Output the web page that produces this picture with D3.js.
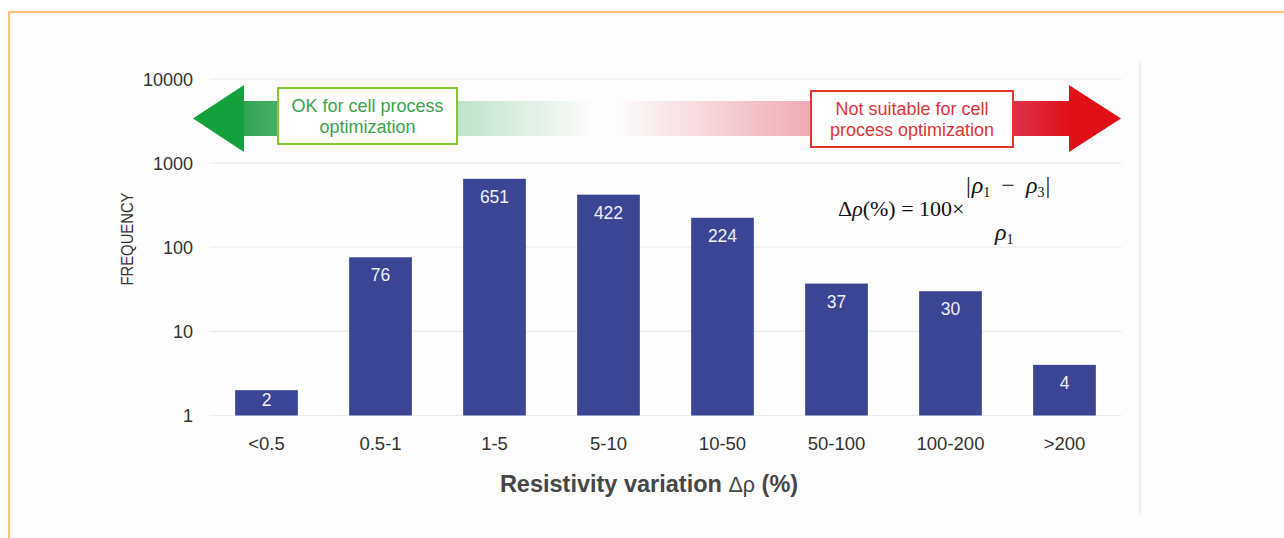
<!DOCTYPE html>
<html>
<head>
<meta charset="utf-8">
<script src="https://cdn.jsdelivr.net/npm/d3@7"></script>
<style>
  html, body { margin: 0; padding: 0; background: #ffffff; }
  svg { display: block; }
</style>
</head>
<body>
<svg id="chart" width="1284" height="538"></svg>
<script>
// Resistivity variation bins and how many samples fall in each
const categories = ["<0.5", "0.5-1", "1-5", "5-10", "10-50", "50-100", "100-200", ">200"];
const frequency = [2, 76, 651, 422, 224, 37, 30, 4];
const yTicks = [1, 10, 100, 1000, 10000];

const okText = ["OK for cell process", "optimization"];
const badText = ["Not suitable for cell", "process optimization"];

const svg = d3.select("#chart");
const W = 1284, H = 538;
const sans = "Liberation Sans, Arial, sans-serif";

// page frame
svg.append("rect").attr("x", 9).attr("y", 12).attr("width", W - 9).attr("height", H - 12)
  .attr("fill", "#fdfdfd");
svg.append("path").attr("d", `M9,${H} V12 H${W}`)
  .attr("fill", "none").attr("stroke", "#f6c27c").attr("stroke-width", 2);
svg.append("line").attr("x1", 1140).attr("x2", 1140).attr("y1", 63).attr("y2", 513)
  .attr("stroke", "#e6e6e6").attr("stroke-width", 1.5);

const plot = { left: 209.5, right: 1121.5, top: 79, bottom: 415.5 };

const x = d3.scaleBand().domain(categories)
  .range([plot.left, plot.right])
  .paddingInner(0.45).paddingOuter(0.225);
const y = d3.scaleLog().domain([1, 10000]).range([plot.bottom, plot.top]);

// horizontal grid
svg.append("g").selectAll("line").data(yTicks).join("line")
  .attr("x1", plot.left).attr("x2", plot.right)
  .attr("y1", d => y(d)).attr("y2", d => y(d))
  .attr("stroke", "#ececec").attr("stroke-width", 1.2);

// y axis labels
const yAxis = d3.axisLeft(y).tickValues(yTicks).tickFormat(d3.format("d")).tickSize(0).tickPadding(0);
const gy = svg.append("g").attr("transform", `translate(193,0)`).call(yAxis);
gy.select(".domain").remove();
gy.selectAll("text").attr("font-family", sans)
  .attr("font-size", 18).attr("fill", "#333").attr("dy", "0.36em");

// x axis labels
const xAxis = d3.axisBottom(x).tickSize(0).tickPadding(0);
const gx = svg.append("g").attr("transform", `translate(0,437)`).call(xAxis);
gx.select(".domain").remove();
gx.selectAll("text").attr("font-family", sans)
  .attr("font-size", 18.5).attr("fill", "#333").attr("dy", "0.71em");

// bars
svg.append("g").selectAll("rect").data(frequency).join("rect")
  .attr("x", (d, i) => x(categories[i]))
  .attr("width", x.bandwidth())
  .attr("y", d => y(d))
  .attr("height", d => plot.bottom - y(d))
  .attr("fill", "#3c4594");

// value labels inside bars
svg.append("g").selectAll("text").data(frequency).join("text")
  .attr("x", (d, i) => x(categories[i]) + x.bandwidth() / 2)
  .attr("y", d => Math.min(y(d) + 24, plot.bottom - 10))
  .attr("text-anchor", "middle")
  .attr("font-family", sans)
  .attr("font-size", 17.5).attr("fill", "#eef0f8")
  .text(d => d);

// axis titles
svg.append("text")
  .attr("transform", `translate(133,239) rotate(-90)`)
  .attr("text-anchor", "middle")
  .attr("font-family", sans)
  .attr("font-size", 17).attr("fill", "#333")
  .attr("textLength", 93).attr("lengthAdjust", "spacingAndGlyphs")
  .text("FREQUENCY");

const xt = svg.append("text")
  .attr("x", 649).attr("y", 492)
  .attr("text-anchor", "middle")
  .attr("font-family", sans)
  .attr("font-size", 23.5).attr("font-weight", "bold").attr("fill", "#474747");
xt.append("tspan").text("Resistivity variation ");
xt.append("tspan").attr("font-weight", "normal").attr("font-size", 21.5).text("Δρ");
xt.append("tspan").text(" (%)");

// direction arrows
const defs = svg.append("defs");
const gGreen = defs.append("linearGradient").attr("id", "fadeGreen")
  .attr("gradientUnits", "userSpaceOnUse").attr("x1", 243).attr("x2", 595).attr("y1", 0).attr("y2", 0);
gGreen.append("stop").attr("offset", 0).attr("stop-color", "#1f9c44").attr("stop-opacity", 0.92);
gGreen.append("stop").attr("offset", 0.6).attr("stop-color", "#2a9f50").attr("stop-opacity", 0.3);
gGreen.append("stop").attr("offset", 1).attr("stop-color", "#2a9f50").attr("stop-opacity", 0);

const gRed = defs.append("linearGradient").attr("id", "fadeRed")
  .attr("gradientUnits", "userSpaceOnUse").attr("x1", 615).attr("x2", 1069).attr("y1", 0).attr("y2", 0);
gRed.append("stop").attr("offset", 0).attr("stop-color", "#d8283f").attr("stop-opacity", 0);
gRed.append("stop").attr("offset", 0.45).attr("stop-color", "#d8283f").attr("stop-opacity", 0.4);
gRed.append("stop").attr("offset", 0.88).attr("stop-color", "#d91a35").attr("stop-opacity", 0.9);
gRed.append("stop").attr("offset", 1).attr("stop-color", "#e0101a").attr("stop-opacity", 1);

const midY = 118.5;
svg.append("rect").attr("x", 243).attr("y", 101).attr("width", 352).attr("height", 35)
  .attr("fill", "url(#fadeGreen)");
svg.append("path").attr("d", `M193,${midY} L244,85 L244,152 Z`).attr("fill", "#14a03c");

svg.append("rect").attr("x", 615).attr("y", 101).attr("width", 455).attr("height", 35)
  .attr("fill", "url(#fadeRed)");
svg.append("path").attr("d", `M1121,${midY} L1069,85 L1069,152 Z`).attr("fill", "#e00f18");

// labelled boxes on the arrows
function labelBox(x0, y0, w, h, stroke, color, lines) {
  svg.append("rect").attr("x", x0).attr("y", y0).attr("width", w).attr("height", h)
    .attr("fill", "#ffffff").attr("stroke", stroke).attr("stroke-width", 2);
  svg.append("g").selectAll("text").data(lines).join("text")
    .attr("x", x0 + w / 2).attr("y", (d, i) => y0 + 24 + i * 21)
    .attr("text-anchor", "middle")
    .attr("font-family", sans)
    .attr("font-size", 18).attr("fill", color)
    .text(d => d);
}
labelBox(278, 88, 179, 56, "#86c43c", "#3aa24c", okText);
labelBox(811, 91, 202, 56, "#e2332f", "#e0333a", badText);

// definition of the resistivity variation
const serif = "Liberation Serif, Times New Roman, serif";
const f = svg.append("g").attr("font-family", serif).attr("fill", "#111");
const lhs = f.append("text").attr("x", 838).attr("y", 216).attr("font-size", 22);
lhs.append("tspan").text("Δ");
lhs.append("tspan").attr("font-style", "italic").text("ρ");
lhs.append("tspan").text("(%) = 100×");

const num = f.append("text").attr("x", 966).attr("y", 193).attr("font-size", 24);
num.append("tspan").text("|");
num.append("tspan").attr("font-style", "italic").attr("dx", 1).text("ρ");
num.append("tspan").attr("font-size", 14).attr("dy", 4).text("1");
num.append("tspan").attr("dy", -4).attr("dx", 11).text("−");
num.append("tspan").attr("font-style", "italic").attr("dx", 11).text("ρ");
num.append("tspan").attr("font-size", 14).attr("dy", 4).text("3");
num.append("tspan").attr("dy", -4).attr("dx", 1).text("|");

const den = f.append("text").attr("x", 995).attr("y", 240).attr("font-size", 24);
den.append("tspan").attr("font-style", "italic").text("ρ");
den.append("tspan").attr("font-size", 14).attr("dy", 4).text("1");
</script>
</body>
</html>
